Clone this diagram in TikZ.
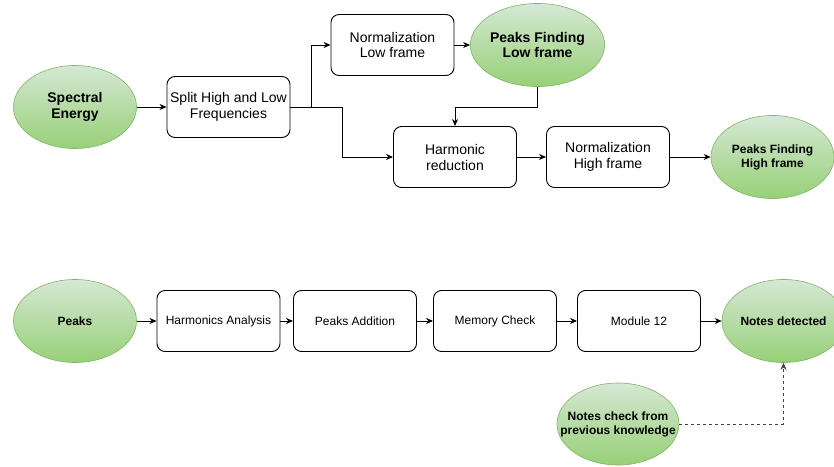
\documentclass[tikz,border=0pt]{standalone}
\usepackage{fontspec}
\setmainfont{Liberation Sans}
\usetikzlibrary{shapes.geometric, arrows.meta, positioning}
\definecolor{leaftop}{HTML}{D5E8D4}
\definecolor{leafbot}{HTML}{97D077}
\definecolor{leafline}{HTML}{82B366}

\tikzset{
  stage/.style={draw=black, rounded corners=8pt, line width=0.9pt, align=center,
    minimum width=123pt, minimum height=61pt, inner sep=1pt},
  blob/.style={ellipse, draw=leafline, line width=0.6pt, top color=leaftop,
    bottom color=leafbot, align=center, inner sep=0pt,
    minimum width=123pt, minimum height=83pt, font=\bfseries},
  flow/.style={-{Stealth[length=7pt,width=6pt]}, line width=0.9pt},
  big/.style={font=\fontsize{14}{16}\selectfont},
  small/.style={font=\fontsize{12}{14}\selectfont},
}

\begin{document}
\begin{tikzpicture}[x=1pt, y=1pt]
  \useasboundingbox (0,0) rectangle (834,466);

  % upper chain: splitting the spectrum
  \node[blob, big, font=\fontsize{14}{16}\selectfont\bfseries] (spec) at (75,359) {Spectral\\Energy};
  \node[stage, big] (split) at (228.5,359) {Split High and Low\\Frequencies};
  \node[stage, big] (normlow) at (392.5,421) {Normalization\\Low frame};
  \node[blob, font=\fontsize{14}{16}\selectfont\bfseries] (pflow) at (537.5,421) {Peaks Finding\\Low frame};
  \node[stage, big] (harm) at (455,309) {Harmonic\\reduction};
  \node[stage, big] (normhigh) at (608,309) {Normalization\\High frame};
  \node[blob, font=\fontsize{12}{14}\selectfont\bfseries] (pfhigh) at (772.5,309) {Peaks Finding\\High frame};

  \draw[flow] (spec) -- (split);
  \draw[flow] (split.east) -- ++(21,0) |- (normlow.west);
  \draw[flow] (split.east) -- ++(52,0) |- (harm.west);
  \draw[flow] (normlow) -- (pflow);
  \draw[flow] (pflow.south) -- ++(0,-20.5) -| (harm.north);
  \draw[flow] (harm) -- (normhigh);
  \draw[flow] (normhigh) -- (pfhigh);

  % lower chain: from peaks to notes
  \node[blob, font=\fontsize{12}{14}\selectfont\bfseries] (peaks) at (75,145) {Peaks};
  \node[stage, small] (harman) at (218.5,145) {Harmonics Analysis};
  \node[stage, small] (padd) at (355,145) {Peaks Addition};
  \node[stage, small] (mem) at (495,145) {Memory Check};
  \node[stage, small] (mod) at (639,145) {Module 12};
  \node[blob, font=\fontsize{12}{14}\selectfont\bfseries] (notes) at (783.5,145) {Notes detected};
  \node[blob, font=\fontsize{12}{14}\selectfont\bfseries, inner xsep=-22pt, inner ysep=-4pt,
    minimum width=122pt, minimum height=82pt] (check) at (618,42) {Notes check from\\previous knowledge};

  \draw[flow] (peaks) -- (harman);
  \draw[flow] (harman) -- (padd);
  \draw[flow] (padd) -- (mem);
  \draw[flow] (mem) -- (mod);
  \draw[flow] (mod) -- (notes);
  \draw[flow, dashed, line width=0.8pt, draw=black!75] (check.east) -| (notes.south);
\end{tikzpicture}
\end{document}
